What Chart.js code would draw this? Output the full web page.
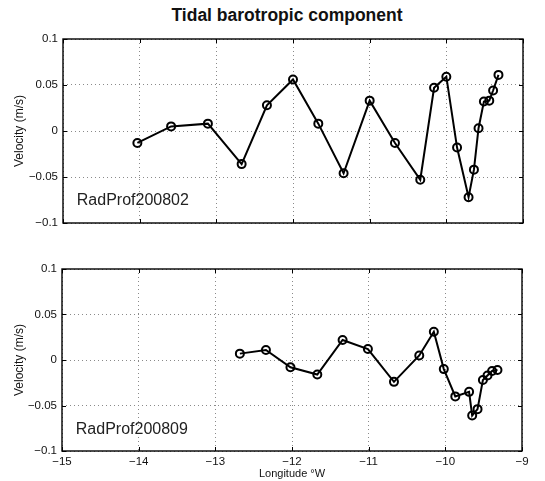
<!DOCTYPE html>
<html>
<head>
<meta charset="utf-8">
<script src="https://cdn.jsdelivr.net/npm/chart.js@4.4.1/dist/chart.umd.min.js"></script>
<style>
  html, body { margin: 0; padding: 0; background: #fff; }
  #wrap { position: relative; width: 545px; height: 481px; overflow: hidden; }
  #title { position: absolute; left: 0; top: 5px; width: 574px; text-align: center;
           font: bold 17.5px "Liberation Sans", Arial, sans-serif; color: #111; }
  canvas { position: absolute; left: 0; }
</style>
</head>
<body>
<div id="wrap">
  <div id="title">Tidal barotropic component</div>
  <canvas id="topChart" width="545" height="240" style="top:0"></canvas>
  <canvas id="botChart" width="545" height="241" style="top:240px"></canvas>
</div>
<script>
// longitude (deg, negative = W) and velocity (m/s)
const lon200802 = [-14.03, -13.59, -13.11, -12.67, -12.34, -12.0, -11.67, -11.34, -11.0, -10.67, -10.34,
                   -10.16, -10.0, -9.86, -9.71, -9.64, -9.58, -9.51, -9.44, -9.39, -9.32];
const vel200802 = [-0.013, 0.005, 0.008, -0.036, 0.028, 0.056, 0.008, -0.046, 0.033, -0.013, -0.053,
                   0.047, 0.059, -0.018, -0.072, -0.042, 0.003, 0.032, 0.033, 0.044, 0.061];

const lon200809 = [-12.68, -12.34, -12.02, -11.67, -11.34, -11.01, -10.67, -10.34, -10.15, -10.02,
                   -9.87, -9.69, -9.65, -9.58, -9.51, -9.45, -9.39, -9.32];
const vel200809 = [0.007, 0.011, -0.008, -0.016, 0.022, 0.012, -0.024, 0.005, 0.031, -0.010,
                   -0.040, -0.035, -0.061, -0.054, -0.022, -0.017, -0.012, -0.011];

const xTicks = [-15, -14, -13, -12, -11, -10, -9];
const yTicks = [-0.1, -0.05, 0, 0.05, 0.1];

const FONT = '"Liberation Sans", Arial, sans-serif';
const minus = s => String(s).replace('-', '\u2212');

// matlab style box with inward ticks + the profile label
function framePlugin(label, lx, ly) {
    return {
        id: 'frame',
        afterDraw(chart) {
            const { ctx, chartArea: a } = chart;
            const xs = chart.scales.x, ys = chart.scales.y;
            ctx.save();
            ctx.strokeStyle = '#000';
            ctx.lineWidth = 1;
            ctx.beginPath();
            xTicks.forEach(v => {
                const p = Math.round(xs.getPixelForValue(v)) + 0.5;
                ctx.moveTo(p, a.bottom); ctx.lineTo(p, a.bottom - 4);
                ctx.moveTo(p, a.top); ctx.lineTo(p, a.top + 4);
            });
            yTicks.forEach(v => {
                const p = Math.round(ys.getPixelForValue(v)) + 0.5;
                ctx.moveTo(a.left, p); ctx.lineTo(a.left + 4, p);
                ctx.moveTo(a.right, p); ctx.lineTo(a.right - 4, p);
            });
            ctx.stroke();
            ctx.lineWidth = 1.4;
            ctx.strokeRect(a.left, a.top, a.right - a.left, a.bottom - a.top);
            ctx.fillStyle = '#222';
            ctx.font = '16px ' + FONT;
            ctx.textBaseline = 'middle';
            ctx.fillText(label, xs.getPixelForValue(lx), ys.getPixelForValue(ly));
            ctx.restore();
        }
    };
}

function makeChart(id, lon, vel, opts) {
    const pts = lon.map((x, i) => ({ x: x, y: vel[i] }));
    return new Chart(document.getElementById(id), {
        type: 'scatter',
        data: {
            datasets: [{
                data: pts,
                showLine: true,
                borderColor: '#000',
                borderWidth: 2,
                pointRadius: 4,
                pointBorderWidth: 2,
                pointBorderColor: '#000',
                pointBackgroundColor: 'rgba(0,0,0,0)',
                tension: 0
            }]
        },
        options: {
            responsive: false,
            animation: false,
            layout: { padding: opts.padding },
            plugins: { legend: { display: false }, tooltip: { enabled: false } },
            scales: {
                x: {
                    type: 'linear',
                    min: -15, max: -9,
                    afterBuildTicks: s => { s.ticks = xTicks.map(v => ({ value: v })); },
                    afterFit: s => { s.height = opts.xHeight; },
                    grid: { color: '#8a8a8a', lineWidth: 1, drawTicks: false },
                    border: { display: false, dash: [1, 3] },
                    ticks: {
                        display: opts.showX,
                        padding: 4,
                        color: '#111',
                        font: { family: FONT, size: 11.5 },
                        maxRotation: 0,
                        autoSkip: false,
                        callback: v => minus(v)
                    },
                    title: {
                        display: opts.showX,
                        text: 'Longitude \u00B0W',
                        color: '#111',
                        font: { family: FONT, size: 11 },
                        padding: { top: 0, bottom: 0 }
                    }
                },
                y: {
                    min: -0.1, max: 0.1,
                    afterBuildTicks: s => { s.ticks = yTicks.map(v => ({ value: v })); },
                    afterFit: s => { s.width = opts.yWidth; },
                    grid: { color: '#8a8a8a', lineWidth: 1, drawTicks: false },
                    border: { display: false, dash: [1, 3] },
                    ticks: {
                        padding: 5,
                        color: '#111',
                        font: { family: FONT, size: 11.5 },
                        callback: v => minus(+v.toFixed(2))
                    },
                    title: {
                        display: true,
                        text: 'Velocity (m/s)',
                        color: '#111',
                        font: { family: FONT, size: 12 },
                        padding: { top: 12, bottom: 0 }
                    }
                }
            }
        },
        plugins: [framePlugin(opts.label, -14.82, -0.076)]
    });
}

makeChart('topChart', lon200802, vel200802, {
    padding: { left: 0, right: 22, top: 39, bottom: 0 },
    yWidth: 63, xHeight: 17, showX: false, label: 'RadProf200802'
});
makeChart('botChart', lon200809, vel200809, {
    padding: { left: 0, right: 23, top: 29, bottom: 0 },
    yWidth: 62, xHeight: 30, showX: true, label: 'RadProf200809'
});
</script>
</body>
</html>
